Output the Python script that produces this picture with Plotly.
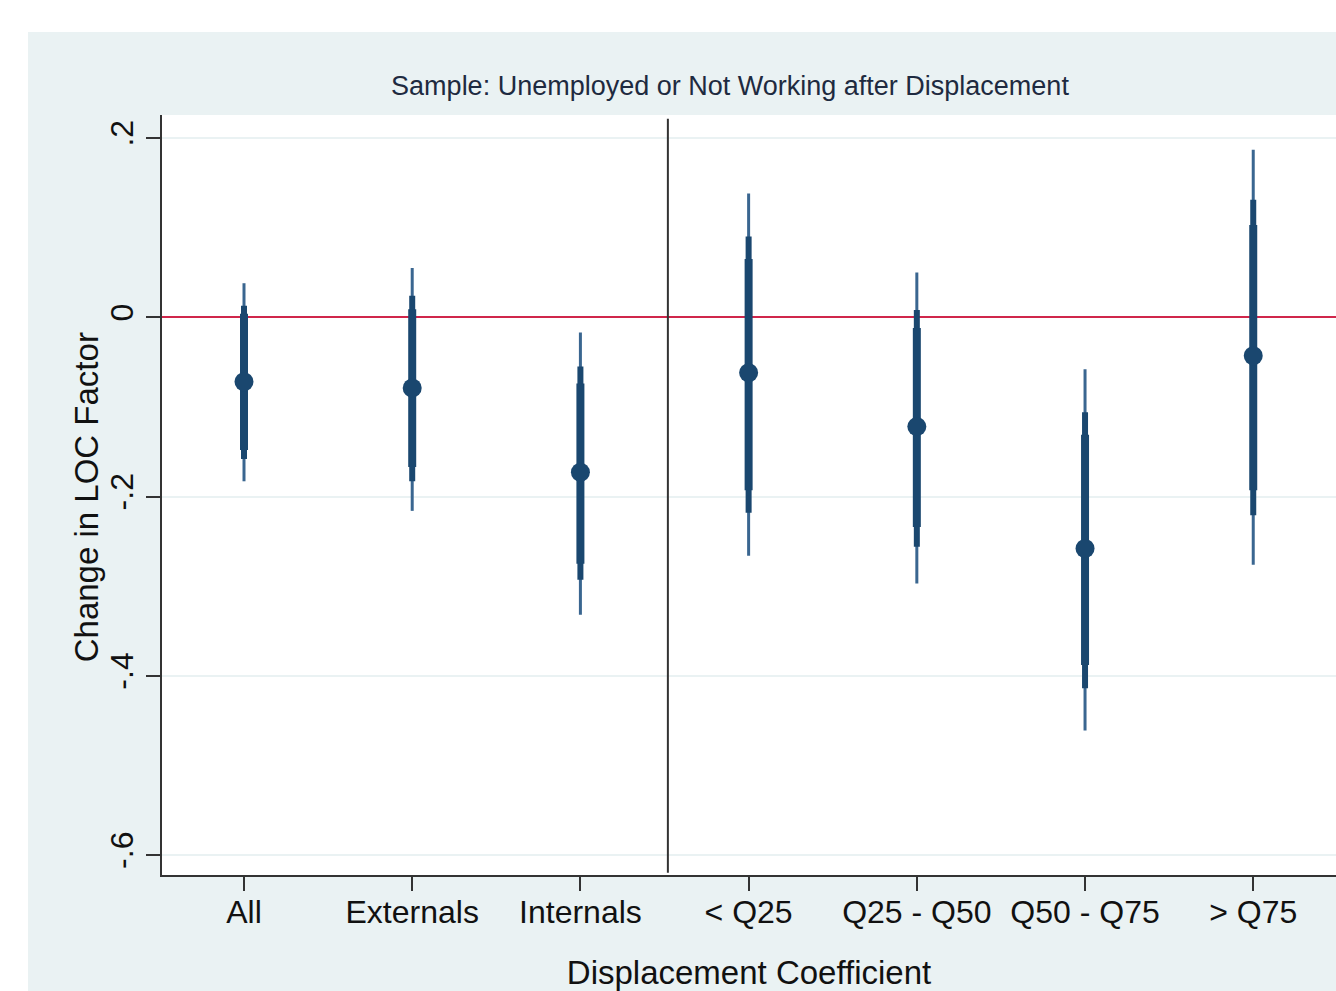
import plotly.graph_objects as go

categories = ["All", "Externals", "Internals", "< Q25", "Q25 - Q50", "Q50 - Q75", "> Q75"]
positions = [1, 2, 3, 4, 5, 6, 7]
estimates = [-0.072, -0.079, -0.173, -0.062, -0.122, -0.258, -0.043]
ci99_lo = [-0.183, -0.216, -0.332, -0.266, -0.297, -0.461, -0.276]
ci99_hi = [0.038, 0.055, -0.017, 0.138, 0.050, -0.058, 0.187]
ci95_lo = [-0.158, -0.183, -0.293, -0.218, -0.256, -0.414, -0.221]
ci95_hi = [0.013, 0.024, -0.055, 0.090, 0.008, -0.106, 0.131]
ci90_lo = [-0.148, -0.167, -0.275, -0.193, -0.234, -0.388, -0.193]
ci90_hi = [0.004, 0.009, -0.074, 0.065, -0.012, -0.131, 0.103]
ytick_vals = [-0.6, -0.4, -0.2, 0, 0.2]
ytick_text = ["-.6", "-.4", "-.2", "0", ".2"]
divider_at = 3.52

NAVY = "#1a476f"
BG = "#eaf2f3"
FONT = "Liberation Sans, Arial, sans-serif"
PLOT_W = 1174


def seg(lo, hi):
    xs, ys = [], []
    for p, a, b in zip(positions, lo, hi):
        xs += [p, p, None]
        ys += [a, b, None]
    return xs, ys


fig = go.Figure()
for lo, hi, w, col in [(ci99_lo, ci99_hi, 3, "#3a6690"),
                       (ci95_lo, ci95_hi, 6, NAVY),
                       (ci90_lo, ci90_hi, 8, NAVY)]:
    xs, ys = seg(lo, hi)
    fig.add_trace(go.Scatter(x=xs, y=ys, mode="lines",
                             line=dict(color=col, width=w),
                             showlegend=False, hoverinfo="skip"))

fig.add_trace(go.Scatter(x=positions, y=estimates, mode="markers",
                         marker=dict(color=NAVY, size=19),
                         showlegend=False))

# outer light background and white plot region
fig.add_shape(type="rect", xref="paper", yref="paper",
              x0=(28 - 162) / PLOT_W, x1=1.05, y0=-0.2, y1=(875 - 32) / 760,
              fillcolor=BG, line=dict(width=0), layer="below")
fig.add_shape(type="rect", xref="paper", yref="paper",
              x0=0, x1=1.05, y0=0, y1=1.0,
              fillcolor="white", line=dict(width=0), layer="below")

# divider line
fig.add_shape(type="line", xref="x", yref="paper",
              x0=divider_at, x1=divider_at, y0=0.003, y1=0.995,
              line=dict(color="#333333", width=2))

# y axis title
fig.add_annotation(text="Change in LOC Factor", xref="paper", yref="paper",
                   x=(86 - 162) / PLOT_W, y=0.497, xanchor="center", yanchor="middle",
                   textangle=-90, showarrow=False,
                   font=dict(size=33, family=FONT, color="#111111"))

fig.update_layout(
    width=1336, height=991,
    margin=dict(l=162, r=0, t=115, b=116),
    paper_bgcolor="white", plot_bgcolor="rgba(0,0,0,0)",
    font=dict(family=FONT, color="#111111"),
    title=dict(text="Sample: Unemployed or Not Working after Displacement",
               x=(730 - 162) / PLOT_W, xref="paper", xanchor="center",
               y=1 - 86 / 991, yref="container", yanchor="middle",
               font=dict(size=27, color="#1e2a40", family=FONT)),
    showlegend=False,
)

fig.update_xaxes(
    range=[0.5125, 7.492],
    tickmode="array", tickvals=positions, ticktext=categories,
    tickfont=dict(size=32, family=FONT, color="#111111"),
    ticks="outside", ticklen=14, tickwidth=2, tickcolor="#333333",
    ticklabelstandoff=-6,
    showline=True, linecolor="#333333", linewidth=2,
    showgrid=False, zeroline=False,
    title=dict(text="Displacement Coefficient", standoff=37,
               font=dict(size=33, family=FONT, color="#111111")),
)

fig.update_yaxes(
    range=[-0.6223, 0.2257],
    tickmode="array", tickvals=ytick_vals, ticktext=ytick_text,
    tickangle=-90,
    tickfont=dict(size=32, family=FONT, color="#111111"),
    ticks="outside", ticklen=14, tickwidth=2, tickcolor="#333333",
    showline=True, linecolor="#333333", linewidth=2,
    showgrid=True, gridcolor=BG, gridwidth=2,
    zeroline=True, zerolinecolor="#d0264b", zerolinewidth=2,
)

fig.write_html("out.html",
               config={"displayModeBar": False},
               post_script="document.body.style.margin='0';document.body.style.overflow='hidden';")
